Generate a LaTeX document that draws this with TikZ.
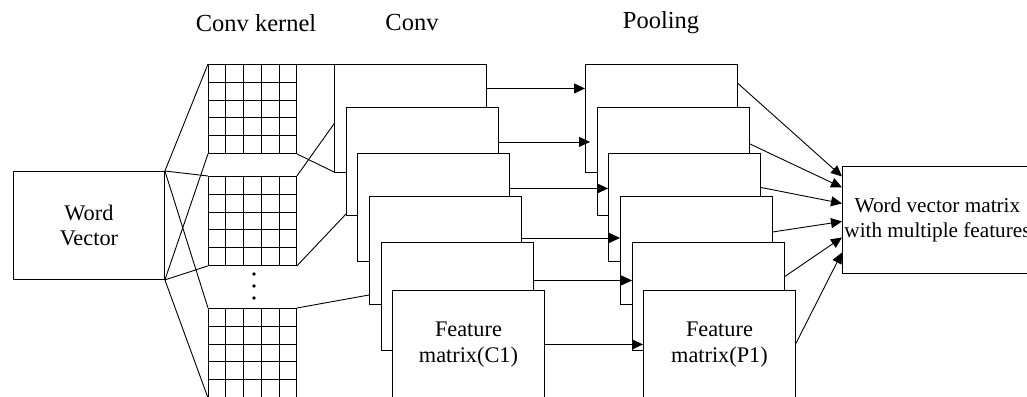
\documentclass[tikz,border=0pt]{standalone}
\usepackage{fontspec}
\setmainfont{Liberation Serif}
\usetikzlibrary{arrows.meta,calc}
\newcommand\mybxfont{\fontsize{22.3}{25.5}\selectfont}
\newcommand\myoutfont{\fontsize{21.2}{25.5}\selectfont}
\newcommand\myttlfont{\fontsize{24.5}{29}\selectfont}
\begin{document}
\begin{tikzpicture}[x=1pt,y=-1pt,line width=0.9pt,
  box/.style={draw,fill=white,minimum width=152pt,minimum height=108pt,inner sep=0pt,anchor=north west,align=center,font=\mybxfont},
  kernel/.style={draw,minimum width=88pt,minimum height=89pt,inner sep=0pt,anchor=north west},
  ttl/.style={font=\myttlfont,inner sep=0pt},
  dotnode/.style={circle,fill,inner sep=0pt,minimum size=3.6pt},
  arr/.style={-{Triangle[length=11pt,width=10pt]}}]
\clip (0,0) rectangle (1027,396);
% titles
\node[ttl] (t1) at (256,23) {Conv kernel};
\node[ttl] (t2) at (412,23) {Conv};
\node[ttl] (t3) at (661,23) {Pooling};
% word vector
\node[box,minimum width=151pt] (wv) at (13,171) {Word\\Vector};
% kernels
\node[kernel] (g1) at (208,64) {};
\node[kernel] (g2) at (208,176) {};
\node[kernel] (g3) at (208,308) {};
\foreach \g in {g1,g2,g3}{
  \foreach \i in {1,...,4}{
    \draw ($(\g.north west)!\i/5!(\g.north east)$) -- ($(\g.south west)!\i/5!(\g.south east)$);
    \draw ($(\g.north west)!\i/5!(\g.south west)$) -- ($(\g.north east)!\i/5!(\g.south east)$);
  }
}
\node[dotnode] (d1) at (254,274) {};
\node[dotnode] (d2) at (254,286) {};
\node[dotnode] (d3) at (254,298) {};
% word vector to kernels
\draw (wv.north east) -- (g1.north west);
\draw (wv.north east) -- (g2.north west);
\draw (wv.north east) -- (g3.north west);
\draw (wv.south east) -- (g1.south west);
\draw (wv.south east) -- (g2.south west);
\draw (wv.south east) -- (g3.south west);
% connection points on the conv stack
\coordinate (c1nw) at (334,64);
\coordinate (c1sw) at (334,172);
\coordinate (c2nw) at (346,107);
\coordinate (c2sw) at (346,214);
\coordinate (c4w) at (369,295);
% kernels to conv
\draw (g1.north east) -- (c1nw);
\draw (g1.south east) -- (c1sw);
\draw (g2.north east) -- (c2nw);
\draw (g2.south east) -- (c2sw);
\draw (g3.north east) -- (c4w);
% conv boxes
\node[box] (c1) at (334,64) {};
\node[box] (c2) at (346,107) {};
\node[box] (c3) at (357,153) {};
\node[box] (c4) at (369,196) {};
\node[box] (c5) at (381,242) {};
\node[box] (c6) at (392,290) {Feature\\matrix(C1)};
% pooling boxes
\node[box] (p1) at (585,64) {};
\node[box] (p2) at (597,107) {};
\node[box] (p3) at (608,153) {};
\node[box] (p4) at (620,196) {};
\node[box] (p5) at (632,242) {};
\node[box] (p6) at (643,290) {Feature\\matrix(P1)};
% conv to pool arrows
\draw[arr] ([yshift=30pt]c1.east) -- ([yshift=30pt]p1.west);
\draw[arr] ([yshift=19.5pt]c2.east) -- ([xshift=-7pt,yshift=19.5pt]p2.west);
\draw[arr] ([yshift=19pt]c3.east) -- ([yshift=19pt]p3.west);
\draw[arr] ([yshift=12.5pt]c4.east) -- ([yshift=12.5pt]p4.west);
\draw[arr] ([yshift=16pt]c5.east) -- ([yshift=16pt]p5.west);
\draw[arr] (c6.east) -- (p6.west);
% output
\node[box,minimum width=190pt,minimum height=107pt,font=\myoutfont] (out) at (842,166) {Word vector matrix\\with multiple features};
\draw[arr] ([yshift=35pt]p1.east) -- ([yshift=43.5pt]out.west);
\draw[arr] ([yshift=17.5pt]p2.east) -- ([yshift=32.5pt]out.west);
\draw[arr] ([yshift=20pt]p3.east) -- ([yshift=16.5pt]out.west);
\draw[arr] ([yshift=18.5pt]p4.east) -- ([yshift=-1.5pt]out.west);
\draw[arr] ([yshift=20pt]p5.east) -- ([yshift=-17.5pt]out.west);
\draw[arr] ([yshift=1pt]p6.east) -- ([yshift=-32.5pt]out.west);
\end{tikzpicture}
\end{document}
